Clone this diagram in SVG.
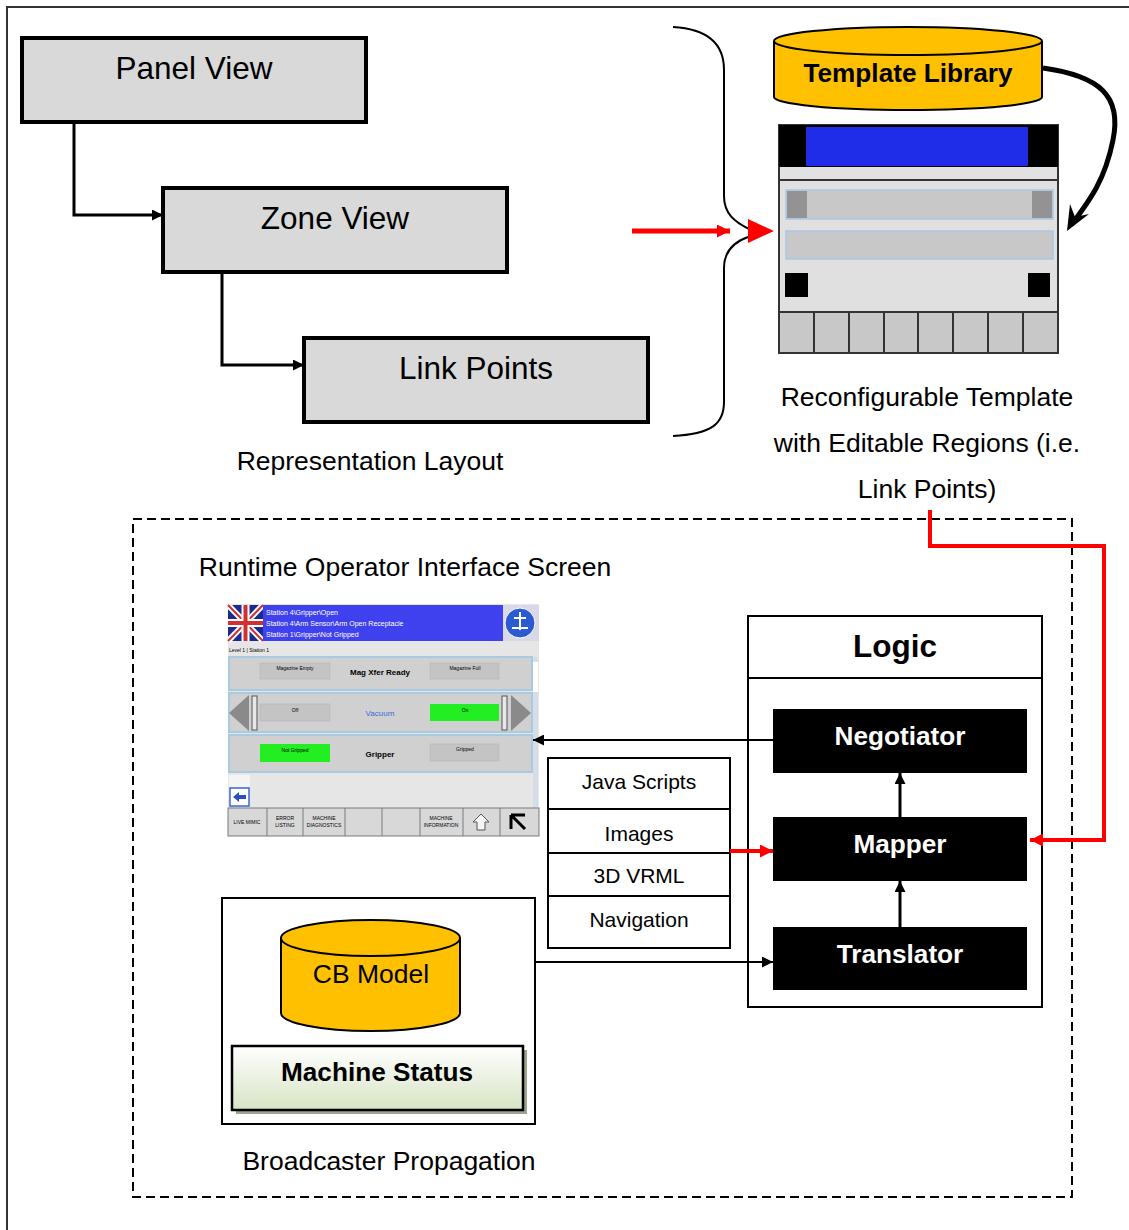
<svg xmlns="http://www.w3.org/2000/svg" width="1129" height="1230" viewBox="0 0 1129 1230">
  <style>
    text { font-family: "Liberation Sans", Arial, sans-serif; fill: #000; }
    .view { fill: #d9d9d9; stroke: #000; stroke-width: 4; }
    .big { font-size: 31.5px; text-anchor: middle; }
    .lbl { font-size: 26.5px; text-anchor: middle; }
    .bl { font-size: 26.2px; text-anchor: middle; font-weight: bold; }
    .bold { font-weight: bold; }
    .wt { fill: #fff; }
    .stack { font-size: 21px; text-anchor: middle; }
    .conn { fill: none; stroke: #000; stroke-width: 3; }
    .thin { fill: none; stroke: #000; stroke-width: 2; }
    .red { fill: none; stroke: #ff0000; stroke-width: 4; }
    .blk { fill: #000; }
    .cyl { fill: #ffc000; stroke: #000; stroke-width: 2; }
    .tiny { font-size: 7px; }
    .tbtn { fill: #c4c4c4; stroke: #b0b0b0; stroke-width: 0.5; }
    .tgrn { fill: #22ee22; }
    .trow { fill: #d0d0d0; stroke: #a9cbe2; stroke-width: 2; }
    .tcell { fill: #d8d8d8; stroke: #7a7a7a; stroke-width: 1; }
  </style>
  <defs>
    <marker id="arr" viewBox="0 0 10 10" refX="10" refY="5" markerWidth="14" markerHeight="11" markerUnits="userSpaceOnUse" orient="auto">
      <path d="M0,0 L10,5 L0,10 z" fill="#000"/>
    </marker>
    <marker id="arrR" viewBox="0 0 10 10" refX="10" refY="5" markerWidth="16" markerHeight="13" markerUnits="userSpaceOnUse" orient="auto">
      <path d="M0,0 L10,5 L0,10 z" fill="#ff0000"/>
    </marker>
    <linearGradient id="msGrad" x1="0" y1="0" x2="0" y2="1">
      <stop offset="0" stop-color="#ffffff"/>
      <stop offset="1" stop-color="#d7e4c4"/>
    </linearGradient>
  </defs>

  <!-- page frame -->
  <rect x="7" y="7" width="1200" height="1300" fill="none" stroke="#333" stroke-width="2"/>

  <!-- representation layout hierarchy -->
  <g id="panel-view">
    <rect class="view" x="22" y="38" width="344" height="84"/>
    <text class="big" x="194" y="79">Panel View</text>
  </g>
  <g id="zone-view">
    <rect class="view" x="163" y="188" width="344" height="84"/>
    <text class="big" x="335" y="229">Zone View</text>
  </g>
  <g id="link-points">
    <rect class="view" x="304" y="338" width="344" height="84"/>
    <text class="big" x="476" y="379">Link Points</text>
  </g>
  <text class="lbl" x="370" y="470">Representation Layout</text>

  <!-- template library store -->
  <g id="template-library">
    <path class="cyl" d="M774,41 L774,97 A134,13 0 0 0 1042,97 L1042,41"/>
    <ellipse class="cyl" cx="908" cy="41" rx="134" ry="14"/>
    <text class="bl" x="908" y="82">Template Library</text>
  </g>

  <!-- reconfigurable template mock-up -->
  <g id="template">
    <rect x="779" y="125" width="279" height="228" fill="#e0e0e0" stroke="#333" stroke-width="2"/>
    <rect x="779" y="125" width="279" height="42" fill="#000"/>
    <rect x="806" y="127" width="222" height="39" fill="#1f2de8"/>
    <rect x="780" y="167" width="277" height="13" fill="#e2e2e2"/>
    <line x1="779" y1="180" x2="1058" y2="180" stroke="#333" stroke-width="2"/>
    <rect x="786" y="190" width="267" height="29" fill="#c8c8c8" stroke="#a8c6e6" stroke-width="1.5"/>
    <rect x="787" y="191" width="20" height="27" fill="#939393"/>
    <rect x="1032" y="191" width="20" height="27" fill="#939393"/>
    <rect x="786" y="231" width="267" height="28" fill="#c8c8c8" stroke="#a8c6e6" stroke-width="1.5"/>
    <rect x="785" y="273" width="23" height="24" fill="#000"/>
    <rect x="1028" y="273" width="22" height="24" fill="#000"/>
    <rect x="779" y="312" width="279" height="41" fill="#c8c8c8" stroke="#333" stroke-width="2"/>
    <path d="M814,312 V353 M849,312 V353 M884,312 V353 M918,312 V353 M953,312 V353 M988,312 V353 M1023,312 V353" stroke="#333" stroke-width="2"/>
  </g>
  <text class="lbl" x="927" y="406">Reconfigurable Template</text>
  <text class="lbl" x="927" y="452">with Editable Regions (i.e.</text>
  <text class="lbl" x="927" y="498">Link Points)</text>

  <!-- brace grouping the layout levels -->
  <path class="thin" d="M673,27 C710,29 724,45 724,70 L724,196 C724,214 735,222 749,229 M748,237 C734,242 724,252 724,268 L724,402 C724,425 710,434 673,436"/>

  <!-- runtime region -->
  <rect x="133" y="519" width="939" height="678" fill="none" stroke="#000" stroke-width="2" stroke-dasharray="9,5"/>
  <text class="lbl" x="405" y="576">Runtime Operator Interface Screen</text>

  <!-- operator screen thumbnail -->
  <g id="operator-screen">
    <rect x="228" y="604" width="311" height="232" fill="#e6e6e6"/>
    <rect x="228" y="605" width="35" height="36" fill="#1b2a8c"/>
    <path d="M228,605 L263,641 M263,605 L228,641" stroke="#fff" stroke-width="6"/>
    <path d="M228,605 L263,641 M263,605 L228,641" stroke="#d03030" stroke-width="2"/>
    <path d="M245.5,605 V641 M228,623 H263" stroke="#fff" stroke-width="8"/>
    <path d="M245.5,605 V641 M228,623 H263" stroke="#d03030" stroke-width="4"/>
    <rect x="263" y="605" width="240" height="36" fill="#3f40ee"/>
    <rect x="503" y="605" width="36" height="36" fill="#d8d8e8"/>
    <circle cx="520" cy="623" r="15" fill="#2a5bd0" stroke="#fff" stroke-width="1"/>
    <path d="M512,628 L528,628 M520,612 L520,630 M514,618 L526,618" stroke="#fff" stroke-width="2" fill="none"/>
    <text class="tiny wt" x="266" y="615">Station 4\Gripper\Open</text>
    <text class="tiny wt" x="266" y="626">Station 4\Arm Sensor\Arm Open Receptacle</text>
    <text class="tiny wt" x="266" y="637">Station 1\Gripper\Not Gripped</text>
    <text x="229" y="652" font-size="5">Level 1 | Station 1</text>
    <rect class="trow" x="229" y="657" width="303" height="33"/>
    <rect class="tbtn" x="260" y="663" width="70" height="16"/>
    <text x="295" y="670" font-size="5" text-anchor="middle">Magazine Empty</text>
    <text x="380" y="675" font-size="8" font-weight="bold" text-anchor="middle">Mag Xfer Ready</text>
    <rect class="tbtn" x="430" y="663" width="69" height="16"/>
    <text x="465" y="670" font-size="5" text-anchor="middle">Magazine Full</text>
    <rect class="trow" x="229" y="693" width="303" height="39"/>
    <path d="M229,713 L249,695 L249,731 z" fill="#8a8a8a"/>
    <path d="M531,713 L511,695 L511,731 z" fill="#8a8a8a"/>
    <rect x="252" y="696" width="5" height="34" fill="#e8e8e8" stroke="#555" stroke-width="1"/>
    <rect x="502" y="696" width="5" height="34" fill="#e8e8e8" stroke="#555" stroke-width="1"/>
    <rect class="tbtn" x="260" y="704" width="70" height="17"/>
    <text x="295" y="712" font-size="5" text-anchor="middle">Off</text>
    <text x="380" y="716" font-size="8" text-anchor="middle" style="fill:#3a6ad8">Vacuum</text>
    <rect class="tgrn" x="430" y="704" width="69" height="17"/>
    <text x="465" y="712" font-size="5" text-anchor="middle">On</text>
    <rect class="trow" x="229" y="735" width="303" height="37"/>
    <rect class="tgrn" x="260" y="744" width="70" height="18"/>
    <text x="295" y="752" font-size="5" text-anchor="middle">Not Gripped</text>
    <text x="380" y="757" font-size="8" font-weight="bold" text-anchor="middle">Gripper</text>
    <rect class="tbtn" x="430" y="744" width="69" height="17"/>
    <text x="465" y="751" font-size="5" text-anchor="middle">Gripped</text>
    <rect x="533" y="657" width="5" height="151" fill="#d4dde8"/>
    <rect x="533" y="662" width="5" height="30" fill="#fff"/>
    <rect x="229" y="775" width="21" height="12" fill="#f4f4f4"/>
    <rect x="230" y="788" width="19" height="18" fill="#fff" stroke="#3a6ad8" stroke-width="1.5"/>
    <path d="M233,797 L239,792 L239,795 L246,795 L246,799 L239,799 L239,802 z" fill="#2a4fc0"/>
    <rect class="tcell" x="228" y="808" width="311" height="28"/>
    <path d="M267,808 V836 M303,808 V836 M345,808 V836 M382,808 V836 M420,808 V836 M463,808 V836 M500,808 V836" stroke="#7a7a7a" stroke-width="1"/>
    <text x="247" y="824" font-size="5" text-anchor="middle">LIVE MIMIC</text>
    <text x="285" y="820" font-size="5" text-anchor="middle">ERROR</text>
    <text x="285" y="827" font-size="5" text-anchor="middle">LISTING</text>
    <text x="324" y="820" font-size="5" text-anchor="middle">MACHINE</text>
    <text x="324" y="827" font-size="5" text-anchor="middle">DIAGNOSTICS</text>
    <text x="441" y="820" font-size="5" text-anchor="middle">MACHINE</text>
    <text x="441" y="827" font-size="5" text-anchor="middle">INFORMATION</text>
    <path d="M481,814 L489,822 L485,822 L485,830 L477,830 L477,822 L473,822 z" fill="#f4f4f4" stroke="#555" stroke-width="1"/>
    <path d="M511,815 L511,829 M511,815 L525,815 M511,815 L525,829" stroke="#000" stroke-width="3" fill="none"/>
  </g>

  <!-- resource list -->
  <g id="resources">
    <rect x="548" y="758" width="182" height="190" fill="#fff" stroke="#000" stroke-width="2"/>
    <path d="M548,809 H730 M548,853 H730 M548,896 H730" stroke="#000" stroke-width="2"/>
    <text class="stack" x="639" y="789">Java Scripts</text>
    <text class="stack" x="639" y="841">Images</text>
    <text class="stack" x="639" y="883">3D VRML</text>
    <text class="stack" x="639" y="927">Navigation</text>
  </g>

  <!-- logic block -->
  <g id="logic">
    <rect x="748" y="616" width="294" height="391" fill="#fff" stroke="#000" stroke-width="2"/>
    <line x1="748" y1="678" x2="1042" y2="678" stroke="#000" stroke-width="2"/>
    <text class="big bold" x="895" y="657">Logic</text>
  </g>
  <g id="negotiator">
    <rect class="blk" x="773" y="709" width="254" height="64"/>
    <text class="bl wt" x="900" y="745">Negotiator</text>
  </g>
  <g id="mapper">
    <rect class="blk" x="773" y="817" width="254" height="64"/>
    <text class="bl wt" x="900" y="853">Mapper</text>
  </g>
  <g id="translator">
    <rect class="blk" x="773" y="927" width="254" height="63"/>
    <text class="bl wt" x="900" y="963">Translator</text>
  </g>

  <!-- broadcaster -->
  <g id="broadcaster">
    <rect x="222" y="898" width="313" height="226" fill="#fff" stroke="#000" stroke-width="2"/>
  </g>
  <g id="cb-model">
    <path class="cyl" d="M281,938 L281,1013 A89.5,18 0 0 0 460,1013 L460,938"/>
    <ellipse class="cyl" cx="370.5" cy="938" rx="89.5" ry="18"/>
    <text class="lbl" x="371" y="983">CB Model</text>
  </g>
  <g id="machine-status">
    <rect x="236" y="1050" width="291" height="64" fill="#9ea58c"/>
    <rect x="232" y="1046" width="291" height="64" fill="url(#msGrad)" stroke="#000" stroke-width="2.5"/>
    <text class="bl" x="377" y="1081">Machine Status</text>
  </g>
  <text class="lbl" x="389" y="1170">Broadcaster Propagation</text>

  <!-- connectors -->
  <g id="connectors">
    <path class="conn" d="M74,122 V215 H163" marker-end="url(#arr)"/>
    <path class="conn" d="M222,272 V365 H304" marker-end="url(#arr)"/>
    <path d="M632,231 H730" stroke="#ff0000" stroke-width="5" fill="none" marker-end="url(#arrR)"/>
    <path d="M748,219 L774,231 L748,243 z" fill="#ff0000"/>
    <path d="M1043,68 C1100,76 1122,96 1113,140 C1105,180 1090,200 1072,224" fill="none" stroke="#000" stroke-width="5"/>
    <path d="M1067,231 L1070,204 L1075,217 L1089,214 z" fill="#000"/>
    <path class="red" d="M930,510 V546 H1104 V840 H1030" marker-end="url(#arrR)"/>
    <path class="thin" d="M773,740 H533" marker-end="url(#arr)"/>
    <path d="M730,851 H773" stroke="#ff0000" stroke-width="4" fill="none" marker-end="url(#arrR)"/>
    <path class="conn" d="M900,817 V773" stroke-width="2.5" marker-end="url(#arr)"/>
    <path class="conn" d="M900,927 V881" stroke-width="2.5" marker-end="url(#arr)"/>
    <path class="thin" d="M535,962 H773" marker-end="url(#arr)"/>
  </g>
</svg>
